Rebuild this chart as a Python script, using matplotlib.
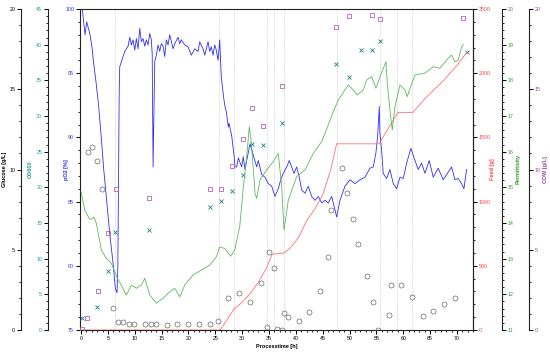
import matplotlib
matplotlib.use("Agg")
import matplotlib.pyplot as plt
from matplotlib.ticker import MultipleLocator

plt.rcParams['font.family'] = ['Liberation Sans', 'DejaVu Sans']

# ---------------- data ----------------
time_po2 = [0.25, 0.74, 1.06, 1.37, 1.68, 2.1, 2.3, 2.73, 3.23, 3.72, 4.2, 5.34, 5.96, 6.39, 6.7,
            6.85, 7.1, 7.2, 7.5, 7.82, 8.14, 8.75, 9.07, 9.37, 9.68, 10.0, 10.3, 10.61, 10.93,
            11.23, 11.54, 11.86, 12.16, 12.47, 12.79, 13.09, 13.25, 13.41, 13.6, 13.72, 14.02,
            14.34, 14.65, 14.95, 15.27, 15.58, 15.88, 16.2, 16.51, 16.81, 17.13, 17.45, 18.06,
            18.38, 18.67, 19.31, 19.92, 20.54, 21.17, 21.78, 22.1, 22.71, 23.03, 23.65, 23.96,
            24.26, 24.58, 24.89, 25.19, 25.51, 25.82, 26.12, 26.57, 26.81, 27.05, 27.43, 27.56,
            28.06, 28.49, 28.67, 28.99, 29.29, 29.92, 30.22, 30.53, 30.85, 31.47, 32.08, 32.71,
            33.01, 33.64, 34.26, 34.87, 35.51, 36.12, 36.73, 37.18, 37.67, 38.3, 38.78, 39.23,
            39.66, 40.16, 40.64, 41.09, 41.71, 42.32, 42.95, 43.57, 44.18, 44.81, 45.43, 46.04,
            46.68, 47.29, 47.61, 48.22, 49.15, 50.08, 51.01, 51.95, 52.88, 53.81, 54.42, 54.92,
            55.24, 55.54, 55.67, 55.98, 56.28, 56.92, 57.53, 58.15, 58.78, 59.39, 60.01, 60.64,
            61.44, 62.19, 62.8, 63.43, 64.05, 64.85, 65.59, 66.52, 67.45, 68.39, 69.02, 69.63,
            70.25, 70.88, 71.31, 71.81]
po2 = [99.9, 98.0, 99.0, 98.5, 97.97, 96.8, 95.9, 94.5, 92.65, 90.2, 87.6, 82.5, 80.2, 78.2, 77.9,
       80.0, 93.5, 95.5, 95.9, 96.3, 96.7, 97.1, 97.8, 97.2, 97.6, 96.8, 97.7, 96.9, 98.5,
       97.45, 97.7, 97.1, 97.6, 97.2, 98.1, 97.6, 96.5, 87.7, 93.0, 95.9, 96.4,
       97.2, 96.7, 97.3, 97.1, 96.3, 97.6, 97.2, 98.0, 97.45, 96.9, 97.3, 97.8,
       97.3, 97.6, 97.2, 97.06, 96.4, 96.9, 96.7, 97.45, 96.9, 96.4, 97.45, 96.7,
       97.06, 96.4, 97.2, 96.8, 96.0, 97.6, 94.7, 93.05, 92.4, 92.0, 90.8, 91.1,
       90.1, 88.6, 87.7, 87.7, 88.4, 87.7, 88.5, 87.5, 88.2, 89.5, 88.6, 87.7,
       88.2, 87.1, 86.9, 86.4, 86.2, 85.4, 86.0, 86.7, 87.2, 87.7, 88.2, 87.7,
       87.2, 87.7, 86.9, 85.9, 85.65, 86.2, 85.4, 85.1, 85.4, 84.9, 85.1, 84.9,
       85.4, 84.35, 83.8, 85.1, 86.2, 86.7, 86.4, 86.7, 86.9, 87.6, 87.7, 88.8,
       90.1, 92.4, 90.3, 89.0, 87.2, 86.8, 87.5, 86.4, 86.0, 86.9, 86.8, 88.0,
       89.15, 88.2, 87.5, 88.0, 87.2, 88.2, 86.9, 87.6, 86.7, 87.3, 87.7, 86.7,
       86.8, 86.4, 86.0, 87.5]

time_perm = [0.0, 0.69, 1.62, 2.42, 2.85, 3.78, 4.71, 5.64, 6.76, 7.5, 8.43, 9.37, 10.3, 11.23,
             11.86, 12.79, 14.02, 15.27, 16.2, 17.45, 18.38, 19.31, 20.85, 22.4, 23.96, 25.19,
             25.82, 26.75, 27.87, 28.62, 29.55, 30.22, 30.81, 31.34, 31.78, 32.4, 32.71, 33.33,
             34.57, 35.8, 36.73, 37.37, 37.8, 38.6, 40.16, 41.71, 43.25, 44.81, 45.43, 46.97,
             47.91, 48.54, 49.77, 50.7, 51.44, 52.56, 53.19, 54.12, 54.92, 55.67, 56.79, 57.03,
             57.53, 57.96, 58.46, 59.39, 60.32, 60.75, 61.26, 62.19, 64.05, 65.59, 66.84, 68.39,
             69.02, 69.63, 70.25, 70.88, 71.2]
perm = [14.88, 14.36, 14.1, 14.16, 13.99, 13.24, 13.01, 12.87, 12.45, 12.26, 11.98, 12.26, 12.17,
        12.26, 12.45, 11.98, 11.75, 11.89, 12.03, 12.17, 11.93, 12.26, 12.54, 12.68, 12.82, 13.05,
        13.32, 13.29, 13.07, 13.24, 13.9, 15.0, 15.8, 16.7, 16.14, 14.83, 14.69, 15.21,
        15.49, 15.72, 15.95, 15.02, 13.8, 14.64, 15.3, 15.49, 15.95, 16.28, 16.51, 17.12,
        17.45, 17.59, 17.87, 17.73, 17.59, 17.73, 18.01, 18.1, 17.78, 18.1, 18.52, 17.92,
        17.17, 16.61, 17.26, 17.87, 17.73, 17.54, 17.78, 18.15, 18.2, 18.38, 18.34, 18.62,
        18.71, 18.52, 18.57, 18.94, 19.0]

time_feed = [0.0, 25.9, 27.2, 28.5, 30.0, 31.5, 33.0, 34.5, 35.6, 37.8, 39.0, 40.5, 42.0, 43.5,
             45.0, 46.5, 47.6, 55.5, 59.0, 61.8, 64.0, 67.6, 70.0, 71.8]
feed = [0, 0, 80, 165, 215, 285, 370, 480, 590, 600, 640, 720, 850, 940,
        1050, 1250, 1450, 1450, 1695, 1695, 1800, 1947, 2060, 2160]

time_glc = [1.36, 1.95, 2.89, 3.95, 5.9, 6.83, 7.88, 8.94, 9.92, 11.92, 12.98, 13.96, 15.96, 17.93,
            19.98, 21.97, 24.02, 25.56, 27.42, 29.47, 31.46, 33.51, 34.57, 35.0, 35.88, 36.44,
            37.37, 37.8, 38.6, 40.59, 42.5, 44.5, 45.9, 46.55, 48.54, 49.53, 50.59, 51.52, 53.3,
            54.31, 55.35, 57.4, 57.66, 59.58, 61.63, 63.62, 65.6, 67.59, 69.63]
glc = [11.11, 11.42, 10.53, 8.79, 1.39, 0.5, 0.5, 0.36, 0.36, 0.36, 0.36, 0.36, 0.31, 0.36,
       0.36, 0.36, 0.37, 0.56, 1.98, 2.29, 1.76, 2.95, 0.21, 4.84, 3.84, 0.06,
       0.0, 1.04, 0.83, 0.56, 1.14, 2.41, 4.57, 7.46, 10.07, 8.52, 6.92, 5.34, 3.38,
       1.74, 0.0, 0.92, 2.8, 2.8, 2.06, 0.85, 1.18, 1.6, 1.98]

time_od = [0.13, 3.03, 5.08, 6.33, 12.66, 24.07, 26.07, 28.06, 30.07, 31.78, 33.89, 37.37, 47.42,
           49.9, 52.08, 54.12, 55.67, 71.81]
od600 = [1.64, 3.18, 8.27, 13.7, 14.02, 17.29, 18.09, 19.53, 21.73, 26.03, 25.89, 29.02, 37.25,
         35.51, 39.3, 39.3, 40.47, 38.93]

time_cdw = [0.13, 1.17, 3.11, 5.08, 6.46, 12.66, 24.07, 26.07, 28.17, 30.16, 31.89, 33.89, 37.42,
            47.48, 49.9, 54.12, 55.67, 71.07]
cdw = [0.04, 0.77, 2.45, 6.02, 8.77, 8.24, 8.79, 8.8, 10.24, 11.88, 13.81, 12.73, 15.22,
       18.9, 19.55, 19.64, 19.4, 19.46]

sample_times = [6.27, 25.7, 28.5, 34.6, 36.0, 37.8, 47.6, 55.7, 58.9, 61.7]

# ---------------- colours ----------------
c_po2 = '#3030f0'
c_glc = '#000000'
c_od = '#1f9a9a'
c_feed = '#ff4040'
c_perm = '#2e9e2e'
c_cdw = '#a040a0'

fs_tick = 3.8
fs_lab = 4.0

fig = plt.figure(figsize=(5.5, 3.55), dpi=100)
ax = fig.add_axes([80/550, 1-330/355, 393/550, 321/355])

for t in sample_times:
    ax.axvline(t, color='#c8c8c8', lw=0.6, ls=(0, (1, 1.2)), zorder=0)

ax.plot(time_po2, po2, color=c_po2, lw=0.6, zorder=3)
ax.set_xlim(-0.2, 73)
ax.set_ylim(75, 100)
ax.xaxis.set_major_locator(MultipleLocator(5))
ax.xaxis.set_minor_locator(MultipleLocator(1))
ax.yaxis.set_major_locator(MultipleLocator(5))
ax.yaxis.set_minor_locator(MultipleLocator(1))
ax.set_xlabel('Processtime [h]', fontsize=fs_lab, fontweight='bold', labelpad=2)
ax.set_ylabel('pO2 [%]', fontsize=fs_lab, fontweight='bold', color=c_po2)
ax.yaxis.set_label_coords(-0.027, 0.5)
ax.tick_params(axis='x', labelsize=fs_tick, length=3, width=0.7, pad=1.5)
ax.tick_params(axis='x', which='minor', length=1.6, width=0.6)
ax.tick_params(axis='y', labelsize=fs_tick, length=3, width=0.7, pad=1.2, labelcolor=c_po2)
ax.tick_params(axis='y', which='minor', length=1.6, width=0.6)
for s in ax.spines.values():
    s.set_linewidth(0.8)
    s.set_color('#222222')


def make_twin(side, pos, color, lim, major, minor, label, labx):
    t = ax.twinx()
    for k, s in t.spines.items():
        s.set_visible(False)
    sp = t.spines[side]
    sp.set_visible(True)
    sp.set_position(('axes', pos))
    sp.set_linewidth(0.8)
    sp.set_color('#222222')
    if side == 'left':
        t.yaxis.set_ticks_position('left')
        t.yaxis.set_label_position('left')
    else:
        t.yaxis.set_ticks_position('right')
        t.yaxis.set_label_position('right')
    t.set_ylim(*lim)
    t.yaxis.set_major_locator(MultipleLocator(major))
    t.yaxis.set_minor_locator(MultipleLocator(minor))
    t.tick_params(axis='y', labelsize=fs_tick, length=3, width=0.7, pad=1.2, labelcolor=color)
    t.tick_params(axis='y', which='minor', length=1.6, width=0.6)
    t.set_ylabel(label, fontsize=fs_lab, fontweight='bold', color=color)
    t.yaxis.set_label_coords(labx, 0.5)
    t.patch.set_visible(False)
    return t


ax_glc = make_twin('left', -0.150, c_glc, (0, 20), 5, 1, 'Glucose [g/L]', -0.186)
ax_od = make_twin('left', -0.0814, c_od, (0, 45), 5, 1, 'OD600', -0.120)
ax_feed = make_twin('right', 1.0, c_feed, (0, 2500), 500, 100, 'Feed [g]', 1.043)
ax_perm = make_twin('right', 1.0738, c_perm, (11, 20), 1, 0.2, 'Permittivity', 1.109)
ax_cdw = make_twin('right', 1.1425, c_cdw, (0, 20), 5, 1, 'CDW [g/L]', 1.178)

ax_feed.plot(time_feed, feed, color='#ff7070', lw=0.6, zorder=2)
ax_perm.plot(time_perm, perm, color='#5cb85c', lw=0.6, zorder=2)
ax_glc.plot(time_glc, glc, ls='none', marker='o', ms=3.6, mfc='none', mec='#666666', mew=0.5)
ax_od.plot(time_od, od600, ls='none', marker='x', ms=3.0, mec='#1a8080', mew=0.6)
ax_cdw.plot(time_cdw, cdw, ls='none', marker='s', ms=3.4, mfc='none', mec='#b860b8', mew=0.6)

for t in (ax_glc, ax_od, ax_feed, ax_perm, ax_cdw):
    t.set_xlim(-0.2, 73)

fig.savefig('out.png', dpi=100)
